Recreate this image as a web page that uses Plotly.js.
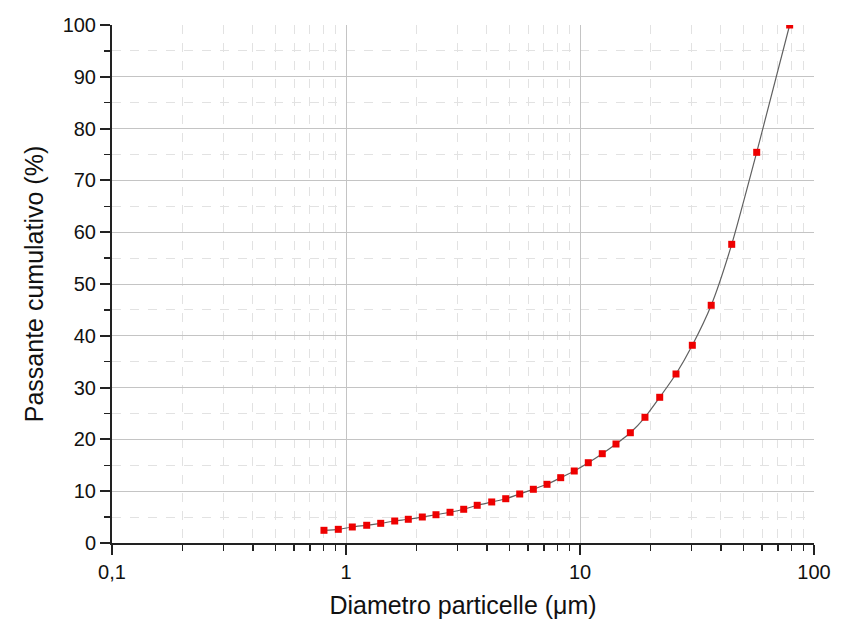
<!DOCTYPE html>
<html>
<head>
<meta charset="utf-8">
<script src="https://cdn.plot.ly/plotly-3.0.1.min.js"></script>
<style>html,body{margin:0;padding:0;background:#fff;}#chart{width:845px;height:624px;}</style>
</head>
<body>
<div id="chart"></div>
<script>
const diametro = [0.805, 0.927, 1.064, 1.226, 1.407, 1.615, 1.846, 2.119, 2.424, 2.783,
  3.184, 3.637, 4.195, 4.814, 5.525, 6.318, 7.228, 8.27, 9.45, 10.85,
  12.45, 14.25, 16.41, 18.95, 21.91, 25.72, 30.2, 36.37, 44.5, 56.9, 78.7];
const passante = [2.45, 2.64, 3.09, 3.42, 3.80, 4.25, 4.58, 5.02, 5.46, 5.93,
  6.51, 7.28, 7.92, 8.55, 9.46, 10.37, 11.33, 12.61, 13.90, 15.50,
  17.24, 19.11, 21.29, 24.27, 28.13, 32.63, 38.17, 45.89, 57.66, 75.42, 100];
const xTickVals = [0.1, 1, 10, 100];
const xTickText = ["0,1", "1", "10", "100"];
const xMinorVals = [0.2,0.3,0.4,0.5,0.6,0.7,0.8,0.9, 2,3,4,5,6,7,8,9, 20,30,40,50,60,70,80,90];
const yTickVals = [0,10,20,30,40,50,60,70,80,90,100];
const yMinorVals = [5,15,25,35,45,55,65,75,85,95];

const traces = [
  {
    x: diametro, y: passante, type: 'scatter', mode: 'lines',
    line: {color: '#606060', width: 1.2, shape: 'spline', smoothing: 0.6},
    hoverinfo: 'skip', showlegend: false
  },
  {
    x: diametro, y: passante, type: 'scatter', mode: 'markers',
    marker: {symbol: 'square', size: 7, color: '#ee0000', line: {width: 0}},
    showlegend: false
  }
];

const fam = 'Arial, "Liberation Sans", sans-serif';

const layout = {
  width: 845, height: 624,
  margin: {l: 112, r: 31, t: 25, b: 81},
  paper_bgcolor: '#ffffff', plot_bgcolor: '#ffffff',
  font: {family: fam, color: '#111'},
  showlegend: false,
  xaxis: {
    type: 'log', range: [-1, 2], automargin: false,
    tickmode: 'array', tickvals: xTickVals, ticktext: xTickText,
    ticks: 'outside', ticklen: 10, tickwidth: 2, tickcolor: '#222',
    showline: true, linecolor: '#222', linewidth: 2,
    showgrid: true, gridcolor: '#c4c4c4', gridwidth: 1,
    zeroline: false,
    tickfont: {size: 20, family: fam, color: '#111'},
    minor: {tickmode: 'array', tickvals: xMinorVals, ticks: 'outside', ticklen: 6, tickwidth: 1.5, tickcolor: '#222',
            showgrid: true, gridcolor: '#e2e2e2', griddash: 'dash', gridwidth: 1},
    title: {text: 'Diametro particelle (\u03bcm)', font: {size: 25, family: fam, color: '#111'}, standoff: 14}
  },
  yaxis: {
    range: [0, 100], automargin: false,
    tickmode: 'array', tickvals: yTickVals,
    ticks: 'outside', ticklen: 10, tickwidth: 2, tickcolor: '#222',
    showline: true, linecolor: '#222', linewidth: 2,
    showgrid: true, gridcolor: '#c4c4c4', gridwidth: 1,
    zeroline: false,
    tickfont: {size: 20, family: fam, color: '#111'},
    minor: {tickmode: 'array', tickvals: yMinorVals, ticks: 'outside', ticklen: 6, tickwidth: 1.5, tickcolor: '#222',
            showgrid: true, gridcolor: '#e2e2e2', griddash: 'dash', gridwidth: 1},
    title: {text: 'Passante cumulativo (%)', font: {size: 25, family: fam, color: '#111'}, standoff: 12}
  }
};

Plotly.newPlot('chart', traces, layout, {displayModeBar: false, staticPlot: true});
</script>
</body>
</html>
